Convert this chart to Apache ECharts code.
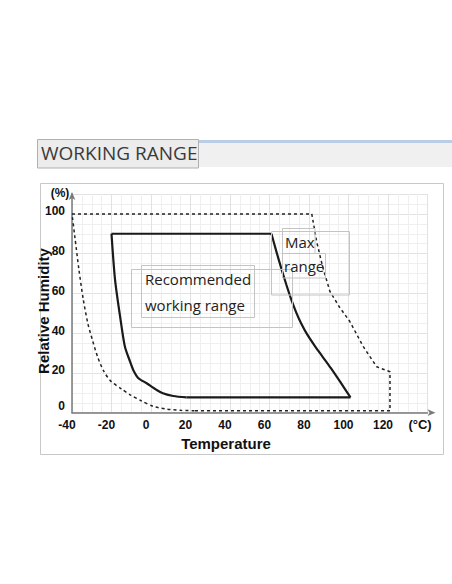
<!DOCTYPE html>
<html>
<head>
<meta charset="utf-8">
<script src="https://cdn.jsdelivr.net/npm/echarts@6/dist/echarts.min.js"></script>
<style>
html,body{margin:0;padding:0;background:#fff;}
#c{width:452px;height:584px;}
</style>
</head>
<body>
<div id="c"></div>
<script>
// Tick labels
var xTicks = [-40, -20, 0, 20, 40, 60, 80, 100, 120];
var yTicks = [0, 20, 40, 60, 80, 100];

// Max range (dashed outline) [temperature, humidity]
var maxTop = [[-40, 100], [81.4, 100]];
var maxRight = [[81.4, 100], [83.9, 86], [87, 73], [90.6, 61], [95.5, 53], [100.6, 46], [107.5, 33.2], [114.3, 23.1], [121, 20.6], [121, 1]];
var maxBottom = [[121, 1], [22, 1]];
var maxLeft = [[22, 1], [15, 1.2], [8, 1.8], [1, 3.2], [-5, 6], [-10.5, 9], [-15, 12], [-20.5, 16], [-24, 21], [-27, 28], [-29.5, 36], [-32, 45], [-34.3, 57], [-36.5, 72], [-38.5, 88], [-40, 100]];

// Recommended working range (solid outline)
var recTop = [[-20, 90], [61, 90]];
var recRight = [[61, 90], [63.5, 81], [66, 72.5], [68.5, 64.5], [71, 57], [73.5, 50.5], [76, 45], [79, 39.5], [83, 33.5], [87, 28], [91, 22.5], [96, 15.2], [101, 7.7]];
var recBottom = [[101, 7.7], [18, 7.7]];
var recLeft = [[18, 7.7], [11.3, 8.4], [6, 9.8], [2.9, 11.4], [-2.2, 14.8], [-6.5, 17.5], [-9, 21.5], [-10.6, 25.7], [-13.2, 33.2], [-15.3, 46], [-18.2, 66.8], [-20, 90]];

var chart = echarts.init(document.getElementById('c'), null, {renderer: 'svg'});

function dashed(data, smooth) {
  return {type: 'line', data: data, symbol: 'none', smooth: smooth ? 0.25 : false,
    lineStyle: {color: '#222', width: 1.5, type: [3, 3]}, silent: true, animation: false, z: 3};
}
function solid(data, smooth) {
  return {type: 'line', data: data, symbol: 'none', smooth: smooth ? 0.25 : false,
    lineStyle: {color: '#1a1a1a', width: 2.2, type: 'solid'}, silent: true, animation: false, z: 4};
}

var boxStroke = '#c4c4c4';
chart.setOption({
  animation: false,
  grid: {left: 72, right: 24.5, top: 194, bottom: 171.3, containLabel: false},
  xAxis: {
    type: 'value', min: -40, max: 140, interval: 20,
    axisLine: {show: true, onZero: false, lineStyle: {color: '#7a7a7a', width: 1.5}, symbol: ['none', 'arrow'], symbolSize: [5, 8], symbolOffset: [0, 8]},
    axisTick: {show: false},
    minorTick: {show: true, splitNumber: 4, length: 0, lineStyle: {opacity: 0}},
    minorSplitLine: {show: true, lineStyle: {color: '#efefef', width: 1}},
    splitLine: {show: true, lineStyle: {color: '#e2e2e2', width: 1}},
    axisLabel: {
      margin: 6, color: '#111', fontFamily: 'Liberation Sans, Arial', fontWeight: 'bold', fontSize: 12,
      padding: [0, 10, 0, 0],
      formatter: function (v) { return xTicks.indexOf(v) >= 0 ? String(v) : ''; }
    }
  },
  yAxis: {
    type: 'value', min: 0, max: 110, interval: 20,
    axisLine: {show: true, onZero: false, lineStyle: {color: '#7a7a7a', width: 1.5}, symbol: ['none', 'arrow'], symbolSize: [5, 8], symbolOffset: [0, 2]},
    axisTick: {show: false},
    minorTick: {show: true, splitNumber: 4, length: 0, lineStyle: {opacity: 0}},
    minorSplitLine: {show: true, lineStyle: {color: '#efefef', width: 1}},
    splitLine: {show: true, lineStyle: {color: '#e2e2e2', width: 1}},
    axisLabel: {
      margin: 7, color: '#111', fontFamily: 'Liberation Sans, Arial', fontWeight: 'bold', fontSize: 12,
      padding: [0, 0, 5, 0],
      formatter: function (v) {
        if (yTicks.indexOf(v) < 0) return '';
        return v === 0 ? '{z|0}' : String(v);
      },
      rich: {z: {fontFamily: 'Liberation Sans, Arial', fontWeight: 'bold', fontSize: 12, color: '#111', padding: [0, 0, 9, 0]}}
    }
  },
  graphic: [
    // header bar
    {type: 'rect', shape: {x: 37, y: 141, width: 415, height: 26}, style: {fill: '#f0f0f0'}, z: -10, silent: true},
    {type: 'line', shape: {x1: 37, y1: 141.5, x2: 452, y2: 141.5}, style: {stroke: '#b9cde6', lineWidth: 3}, z: -9, silent: true},
    {type: 'rect', shape: {x: 37.5, y: 139.5, width: 161, height: 28.5}, style: {fill: '#ececec', stroke: '#b0b0b0', lineWidth: 1}, z: -8, silent: true},
    {type: 'text', x: 41, y: 153, style: {text: 'WORKING RANGE', fill: '#3a3a3a', font: '19px "Open Sans"', textVerticalAlign: 'middle'}, z: -7, silent: true},
    // panel border
    {type: 'rect', shape: {x: 40.5, y: 183.5, width: 403, height: 271}, style: {fill: 'none', stroke: '#c8c8c8', lineWidth: 1}, z: -10, silent: true},
    // axis names
    {type: 'text', x: 60, y: 193, style: {text: '(%)', fill: '#111', font: 'bold 12px "Liberation Sans"', textAlign: 'center', textVerticalAlign: 'middle'}, silent: true},
    {type: 'text', x: 420, y: 424, style: {text: '(°C)', fill: '#111', font: 'bold 13px "Liberation Sans"', textAlign: 'center', textVerticalAlign: 'middle'}, silent: true},
    {type: 'text', x: 226, y: 443, style: {text: 'Temperature', fill: '#111', font: 'bold 15px "Liberation Sans"', textAlign: 'center', textVerticalAlign: 'middle'}, silent: true},
    {type: 'text', x: 43, y: 311, rotation: Math.PI / 2, style: {text: 'Relative Humidity', fill: '#111', font: 'bold 15px "Liberation Sans"', textAlign: 'center', textVerticalAlign: 'middle'}, silent: true},
    // annotation boxes
    {type: 'rect', shape: {x: 131.5, y: 269.5, width: 161, height: 58}, style: {fill: 'none', stroke: boxStroke, lineWidth: 1}, z: 5, silent: true},
    {type: 'rect', shape: {x: 141.5, y: 265.5, width: 113, height: 52}, style: {fill: 'none', stroke: boxStroke, lineWidth: 1}, z: 5, silent: true},
    {type: 'text', x: 145, y: 278.5, style: {text: 'Recommended', fill: '#222', font: '15px "Open Sans"', textVerticalAlign: 'middle'}, z: 6, silent: true},
    {type: 'text', x: 145, y: 304.5, style: {text: 'working range', fill: '#222', font: '15px "Open Sans"', textVerticalAlign: 'middle'}, z: 6, silent: true},
    {type: 'rect', shape: {x: 271.5, y: 231.5, width: 78, height: 63.5}, style: {fill: 'none', stroke: boxStroke, lineWidth: 1}, z: 5, silent: true},
    {type: 'rect', shape: {x: 282.5, y: 228.5, width: 32.5, height: 25}, style: {fill: 'none', stroke: boxStroke, lineWidth: 1}, z: 5, silent: true},
    {type: 'rect', shape: {x: 282.5, y: 253.5, width: 43, height: 24.5}, style: {fill: 'none', stroke: boxStroke, lineWidth: 1}, z: 5, silent: true},
    {type: 'text', x: 285, y: 241.5, style: {text: 'Max', fill: '#222', font: '15px "Open Sans"', textVerticalAlign: 'middle'}, z: 6, silent: true},
    {type: 'text', x: 284, y: 265.5, style: {text: 'range', fill: '#222', font: '15px "Open Sans"', textVerticalAlign: 'middle'}, z: 6, silent: true}
  ],
  series: [
    dashed(maxTop, false), dashed(maxRight, false), dashed(maxBottom, false), dashed(maxLeft, true),
    solid(recTop, false), solid(recRight, true), solid(recBottom, false), solid(recLeft, true)
  ]
});
</script>
</body>
</html>
